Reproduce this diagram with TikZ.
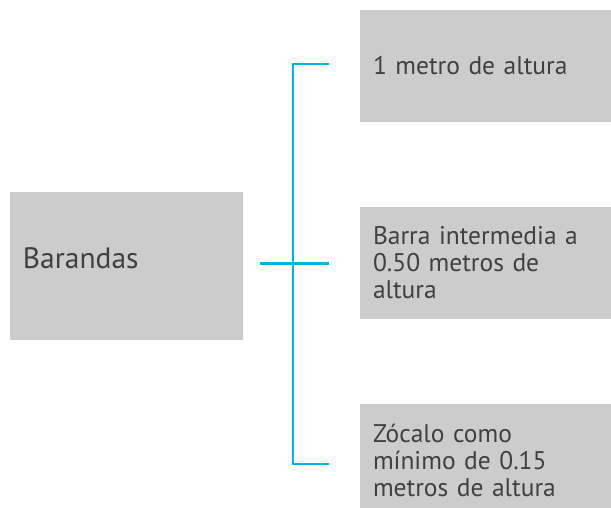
\documentclass[tikz,border=0pt]{standalone}
\usepackage{fontspec}
\setmainfont{PT Sans}
\definecolor{boxgray}{HTML}{CCCCCC}
\definecolor{linecyan}{HTML}{00B4E8}
\definecolor{txtgray}{HTML}{404040}
\begin{document}
\begin{tikzpicture}[x=1pt,y=-1pt,
  box/.style={fill=boxgray, draw=none, inner xsep=13pt, inner ysep=0pt, align=left,
    text=txtgray, font=\fontsize{25.5}{27}\selectfont},
  leftbox/.style={box, text width=207pt, minimum height=148pt, text depth=16pt,
    font=\fontsize{29.5}{27}\selectfont},
  rightbox/.style={box, text width=225pt, minimum height=112pt},
  conn/.style={draw=linecyan, line width=2.8pt}]
\useasboundingbox (0,0) rectangle (611,507);
\node[leftbox] (bar) at (126.5,266) {Barandas};
\node[rightbox] (r1) at (485.5,65.5) {1 metro de altura};
\node[rightbox] (r2) at (485.5,263) {Barra intermedia a\\0.50 metros de\\altura};
\node[rightbox] (r3) at (485.5,460) {Zócalo como\\mínimo de 0.15\\metros de altura};
\coordinate (hs) at (260,263.5);
\coordinate (he) at (329,263.5);
\coordinate (vt) at (293,64);
\coordinate (vb) at (293,464);
\coordinate (t1) at (329,64);
\coordinate (t3) at (329,464);
\draw[conn] (hs) -- (he);
\draw[conn] (t1) -- (vt) -- (vb) -- (t3);
\end{tikzpicture}
\end{document}
